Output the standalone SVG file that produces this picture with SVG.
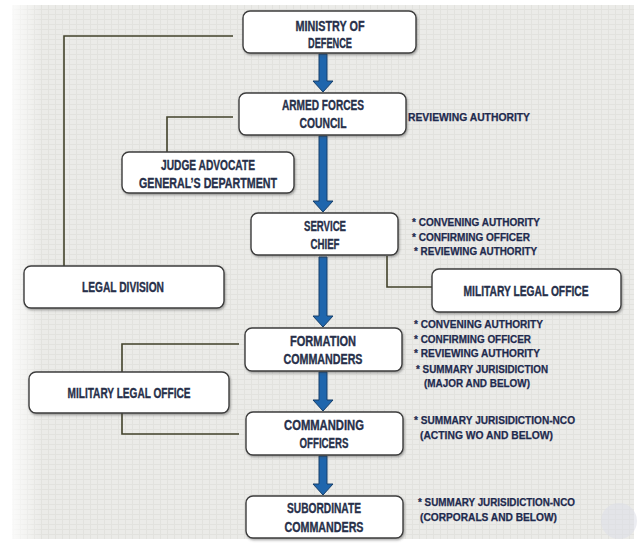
<svg xmlns="http://www.w3.org/2000/svg" width="640" height="544" viewBox="0 0 640 544">
<defs>
<pattern id="tex" width="7" height="5" patternUnits="userSpaceOnUse">
<rect width="7" height="5" fill="#ebebe8"/>
<path d="M0,4.5 H7 M6.5,0 V5" stroke="#e2e2de" stroke-width="1"/>
</pattern>
<linearGradient id="leftfade" x1="0" y1="0" x2="1" y2="0">
<stop offset="0" stop-color="#ffffff" stop-opacity="0.8"/>
<stop offset="1" stop-color="#ffffff" stop-opacity="0"/>
</linearGradient>
<filter id="sh" x="-10%" y="-20%" width="120%" height="150%">
<feDropShadow dx="1" dy="1.5" stdDeviation="1" flood-color="#404040" flood-opacity="0.45"/>
</filter>
</defs>
<style>
.box{fill:#ffffff;stroke:#3c3c3c;stroke-width:1.4;filter:url(#sh)}
.bt{font-family:"Liberation Sans",Arial,sans-serif;font-weight:bold;font-size:14px;fill:#27304a;stroke:#27304a;stroke-width:0.35;text-anchor:middle}
.nt{font-family:"Liberation Sans",Arial,sans-serif;font-weight:bold;font-size:11px;fill:#1e2a4e;stroke:#1e2a4e;stroke-width:0.25}
.ln{fill:none;stroke:#42422a;stroke-width:1.6}
.ar{fill:#1f66ad;stroke:#163f6a;stroke-width:1}
</style>
<rect width="640" height="544" fill="#ffffff"/>
<rect x="12" y="5" width="622" height="534" fill="url(#tex)"/>
<rect x="12" y="5" width="30" height="534" fill="url(#leftfade)"/>
<circle cx="619" cy="521" r="18" fill="#dcdfe8" opacity="0.55"/>

<g id="connectors">
<polyline class="ln" points="233,36 64,36 64,266"/>
<polyline class="ln" points="233,117 167,117 167,152"/>
<polyline class="ln" points="387,256 387,287 432,287"/>
<polyline class="ln" points="239,344 122,344 122,372"/>
<polyline class="ln" points="122,413 122,434 239,434"/>
<path class="ar" d="M319,54 L327,54 L327,81 L333,81 L323,92 L313,81 L319,81 Z"/>
<path class="ar" d="M319,136 L327,136 L327,201 L333,201 L323,212 L313,201 L319,201 Z"/>
<path class="ar" d="M319,257 L327,257 L327,316 L333,316 L323,327 L313,316 L319,316 Z"/>
<path class="ar" d="M319,372 L327,372 L327,400 L333,400 L323,411 L313,400 L319,400 Z"/>
<path class="ar" d="M319,456 L327,456 L327,484 L333,484 L323,495 L313,484 L319,484 Z"/>
</g>

<g id="ministry">
<rect class="box" x="243" y="11" width="173" height="42" rx="7"/>
<text class="bt" x="330" y="31" textLength="69" lengthAdjust="spacingAndGlyphs">MINISTRY OF</text>
<text class="bt" x="330" y="48" textLength="44" lengthAdjust="spacingAndGlyphs">DEFENCE</text>
</g>
<g id="afc">
<rect class="box" x="239" y="93" width="167" height="42" rx="7"/>
<text class="bt" x="323" y="110" textLength="82" lengthAdjust="spacingAndGlyphs">ARMED FORCES</text>
<text class="bt" x="323" y="128" textLength="47" lengthAdjust="spacingAndGlyphs">COUNCIL</text>
<text class="nt" x="408" y="121" textLength="122" lengthAdjust="spacingAndGlyphs">REVIEWING AUTHORITY</text>
</g>
<g id="jag">
<rect class="box" x="122" y="152" width="172" height="41" rx="7"/>
<text class="bt" x="208" y="170" textLength="94" lengthAdjust="spacingAndGlyphs">JUDGE ADVOCATE</text>
<text class="bt" x="208" y="188" textLength="138" lengthAdjust="spacingAndGlyphs">GENERAL’S DEPARTMENT</text>
</g>
<g id="service-chief">
<rect class="box" x="251" y="213" width="147" height="42" rx="7"/>
<text class="bt" x="325" y="231" textLength="42" lengthAdjust="spacingAndGlyphs">SERVICE</text>
<text class="bt" x="325" y="249" textLength="29" lengthAdjust="spacingAndGlyphs">CHIEF</text>
<text class="nt" x="412" y="226" textLength="128" lengthAdjust="spacingAndGlyphs">* CONVENING AUTHORITY</text>
<text class="nt" x="412" y="241" textLength="118" lengthAdjust="spacingAndGlyphs">* CONFIRMING OFFICER</text>
<text class="nt" x="414" y="255" textLength="123" lengthAdjust="spacingAndGlyphs">* REVIEWING AUTHORITY</text>
</g>
<g id="legal-division">
<rect class="box" x="24" y="266" width="200" height="42" rx="7"/>
<text class="bt" x="123" y="292" textLength="82" lengthAdjust="spacingAndGlyphs">LEGAL DIVISION</text>
</g>
<g id="mlo-right">
<rect class="box" x="432" y="269" width="189" height="43" rx="7"/>
<text class="bt" x="526" y="296" textLength="125" lengthAdjust="spacingAndGlyphs">MILITARY LEGAL OFFICE</text>
</g>
<g id="formation">
<rect class="box" x="245" y="328" width="157" height="43" rx="7"/>
<text class="bt" x="323" y="346" textLength="66" lengthAdjust="spacingAndGlyphs">FORMATION</text>
<text class="bt" x="323" y="364" textLength="79" lengthAdjust="spacingAndGlyphs">COMMANDERS</text>
<text class="nt" x="414" y="328" textLength="129" lengthAdjust="spacingAndGlyphs">* CONVENING AUTHORITY</text>
<text class="nt" x="414" y="343" textLength="117" lengthAdjust="spacingAndGlyphs">* CONFIRMING OFFICER</text>
<text class="nt" x="414" y="357" textLength="126" lengthAdjust="spacingAndGlyphs">* REVIEWING AUTHORITY</text>
<text class="nt" x="416" y="373" textLength="132" lengthAdjust="spacingAndGlyphs">* SUMMARY JURISIDICTION</text>
<text class="nt" x="424" y="387" textLength="106" lengthAdjust="spacingAndGlyphs">(MAJOR AND BELOW)</text>
</g>
<g id="mlo-left">
<rect class="box" x="29" y="372" width="200" height="41" rx="7"/>
<text class="bt" x="129" y="398" textLength="123" lengthAdjust="spacingAndGlyphs">MILITARY LEGAL OFFICE</text>
</g>
<g id="commanding">
<rect class="box" x="246" y="412" width="157" height="43" rx="7"/>
<text class="bt" x="324" y="430" textLength="80" lengthAdjust="spacingAndGlyphs">COMMANDING</text>
<text class="bt" x="324" y="448" textLength="49" lengthAdjust="spacingAndGlyphs">OFFICERS</text>
<text class="nt" x="414" y="424" textLength="161" lengthAdjust="spacingAndGlyphs">* SUMMARY JURISIDICTION-NCO</text>
<text class="nt" x="420" y="439" textLength="133" lengthAdjust="spacingAndGlyphs">(ACTING WO AND BELOW)</text>
</g>
<g id="subordinate">
<rect class="box" x="246" y="496" width="157" height="42" rx="7"/>
<text class="bt" x="324" y="513" textLength="74" lengthAdjust="spacingAndGlyphs">SUBORDINATE</text>
<text class="bt" x="324" y="532" textLength="79" lengthAdjust="spacingAndGlyphs">COMMANDERS</text>
<text class="nt" x="418" y="506" textLength="157" lengthAdjust="spacingAndGlyphs">* SUMMARY JURISIDICTION-NCO</text>
<text class="nt" x="420" y="521" textLength="137" lengthAdjust="spacingAndGlyphs">(CORPORALS AND BELOW)</text>
</g>
</svg>
